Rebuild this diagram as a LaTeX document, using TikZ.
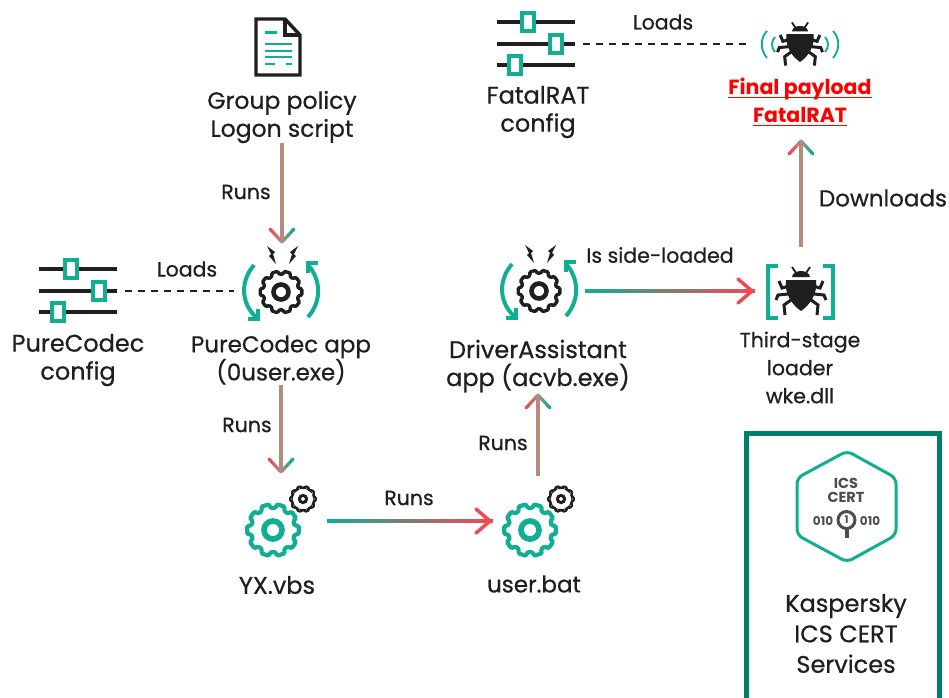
\documentclass[tikz,border=0pt]{standalone}
\usepackage{fontspec}
\setmainfont{Poppins}[FakeBold=0.6]
\newfontfamily\finalfont{Poppins}
\usetikzlibrary{calc}
\definecolor{ateal}{HTML}{10AE92}
\definecolor{ared}{HTML}{EE4B55}
\definecolor{abrown}{HTML}{B48C7E}
\definecolor{ink}{HTML}{1F1F1F}
\definecolor{boxteal}{HTML}{00806A}
\definecolor{hexgray}{HTML}{4D4D4D}
\newcommand{\ulr}[1]{\setbox0\hbox{#1}\rlap{\rule[-4pt]{\wd0}{1.6pt}}\box0 }
\tikzset{
  lab/.style={inner sep=0pt,outer sep=0pt,align=center,text=ink,font=\fontsize{23}{28}\selectfont},
  big/.style={lab,font=\fontsize{24}{28}\selectfont},
  small/.style={lab,font=\fontsize{20.5}{28}\selectfont},
  iconbox/.style={inner sep=0pt,outer sep=0pt,rectangle},
  dashline/.style={ink,line width=1.4pt,dash pattern=on 7pt off 6pt},
  pics/gearic/.style n args={4}{code={
    \draw[#4,line width=#3pt,rounded corners=1pt,fill=white] (-13:#1*0.85)
      \foreach \k in {0,...,9}{ -- ({36*\k-13}:#1*0.85) -- ({36*\k-8}:#1) -- ({36*\k+8}:#1) -- ({36*\k+13}:#1*0.85) } -- cycle;
    \draw[#4,line width=#3*1.35pt] (0,0) circle (#2);
  }},
  pics/sliders/.style n args={3}{code={
    \foreach \yy/\xx in {-22/#1,0/#2,21/#3}{
      \draw[ink,line width=4pt] (-39,\yy) -- (39,\yy);
      \draw[ateal,line width=3.6pt,fill=white] (\xx-6,\yy-9) rectangle (\xx+6,\yy+9);
    }
  }},
  pics/bolt/.style={code={
    \fill[ink] (-5,-9) -- (3,-3) -- (1,-1) -- (4,9) -- (-3,1) -- (-1,-1) -- cycle;
  }},
  pics/bug/.style={code={
    \fill[ink] (-9,-14) .. controls (-8,-22) and (8,-22) .. (9,-14) -- cycle;
    \fill[ink] (-15,-11) -- (15,-11) .. controls (17,2) and (9,14) .. (0,20) .. controls (-9,14) and (-17,2) .. (-15,-11) -- cycle;
    \draw[ink,line width=1.8pt] (-5,-18) -- (-9,-24) (5,-18) -- (9,-24);
    \foreach \s in {-1,1}{
      \draw[ink,line width=3pt,line join=miter] (\s*12,-5) -- (\s*19,-3) -- (\s*22,-10);
      \draw[ink,line width=3pt] (\s*13,3) -- (\s*23,4) -- (\s*25,9);
      \draw[ink,line width=3pt] (\s*10,9) -- (\s*17,14) -- (\s*16,24);
    }
  }},
  pics/spinner/.style={code={
    \draw[ateal,line width=4pt] (-27,-27) .. controls (-43,-8) and (-38,14) .. (-24,26);
    \draw[ateal,line width=3.6pt,line join=miter] (-33,27) -- (-23,27) -- (-23,17);
    \draw[ateal,line width=4pt] (27,25) .. controls (42,8) and (39,-14) .. (27,-27);
    \draw[ateal,line width=3.6pt,line join=miter] (37,-29) -- (27,-29) -- (27,-19);
    \pic at (0,0) {gearic={21}{7.5}{3.4}{ink}};
    \pic[xscale=1] at (-9,-37) {bolt};
    \pic[xscale=-1] at (12,-37) {bolt};
  }}
}
\newcommand{\harrow}[2]{%
  \foreach \i in {0,...,39}{%
    \pgfmathtruncatemacro\pct{100-\i*100/39}%
    \draw[line width=3.5pt,color={ateal!\pct!ared}] ($(#1)!{\i/40}!(#2)$) -- ($(#1)!{(\i+1.4)/40}!(#2)$);
  }%
  \draw[ared,line width=3.5pt,line cap=round,line join=round] ($(#2)+(-15,-12)$) -- ($(#2)+(-1,0)$) -- ($(#2)+(-15,12)$);
}
\newcommand{\varrow}[3]{%
  \draw[abrown,line width=3.5pt] (#1) -- ($(#2)+(0,-#3*3)$);
  \foreach \i in {0,...,9}{%
    \pgfmathtruncatemacro\pct{100-\i*100/9}%
    \draw[line width=3.2pt,line cap=round,color={abrown!\pct!ared}] ($(#2)+({-12*\i/10},{-13*#3*\i/10})$) -- ($(#2)+({-12*(\i+1)/10},{-13*#3*(\i+1)/10})$);
    \draw[line width=3.2pt,line cap=round,color={abrown!\pct!ateal}] ($(#2)+({12*\i/10},{-13*#3*\i/10})$) -- ($(#2)+({12*(\i+1)/10},{-13*#3*(\i+1)/10})$);
  }%
}
\begin{document}
\begin{tikzpicture}[x=1pt,y=-1pt]
\useasboundingbox[fill=white] (0,0) rectangle (949,697);

% anchor boxes
\node[iconbox,minimum width=46pt,minimum height=60pt] (doc) at (278,47) {};
\node[lab,font=\fontsize{23.5}{28}\selectfont,minimum width=160pt,minimum height=52pt] (gp) at (282,117) {Group policy\\Logon script};
\node[iconbox,minimum width=94pt,minimum height=100pt] (pcIcon) at (281,292) {};
\node[iconbox,minimum width=94pt,minimum height=50pt] (pcSl) at (78,291) {};
\node[big,minimum width=140pt,minimum height=54pt] (pcCfg) at (78,360) {PureCodec\\config};
\node[lab,minimum width=190pt,minimum height=50pt] (pcApp) at (281,360) {PureCodec app\\(0user.exe)};
\node[iconbox,minimum width=108pt,minimum height=116pt] (yxIcon) at (273,530) {};
\node[big] (yxLab) at (277,585) {YX.vbs};
\node[iconbox,minimum width=78pt,minimum height=108pt] (ubIcon) at (530,530) {};
\node[lab] (ubLab) at (534,584) {user.bat};
\node[iconbox,minimum width=92pt,minimum height=80pt] (drIcon) at (539,291) {};
\node[big,minimum width=190pt,minimum height=58pt] (drLab) at (538,366) {DriverAssistant\\app (acvb.exe)};
\node[iconbox,minimum width=96pt,minimum height=88pt] (tlIcon) at (801,291) {};
\node[small,minimum width=130pt] (tlLab) at (800,367.5) {Third-stage\\loader\\wke.dll};
\node[iconbox,minimum width=94pt,minimum height=50pt] (finIcon) at (799,44) {};
\node[lab,minimum width=170pt,minimum height=78pt,text=red,font=\finalfont\fontsize{20.5}{28}\selectfont\bfseries] (finLab) at (800,102) {\ulr{Final payload}\\\ulr{FatalRAT}};
\node[iconbox,minimum width=95pt,minimum height=50pt] (frSl) at (535.5,44) {};
\node[big,minimum width=110pt] (frCfg) at (538,112) {FatalRAT\\config};

% icons
\draw[ink,line width=3.4pt,line join=miter] (256,19) -- (285,19) -- (300,35) -- (300,75) -- (256,75) -- cycle;
\draw[ink,line width=3.4pt] (285,19) -- (285,35) -- (300,35);
\draw[ateal,line width=3pt] (265,32) -- (277,32);
\draw[ateal,line width=1.8pt] (265,44) -- (292,44) (265,51) -- (292,51) (265,57) -- (292,57) (265,64) -- (275,64) (286,64) -- (292,64);

\pic at (pcSl) {sliders={-7}{21}{-20}};
\pic at (frSl) {sliders={-7.5}{20.5}{-20.5}};
\pic at (pcIcon) {spinner};
\pic at (drIcon) {spinner};
\pic at (yxIcon) {gearic={26}{9}{4.2}{ateal}};
\pic at (303,499) {gearic={13}{3.6}{2.2}{ink}};
\pic at (ubIcon) {gearic={26}{9}{4.2}{ateal}};
\pic at (561,499) {gearic={13}{3.6}{2.2}{ink}};
\pic at (tlIcon) {bug};
\draw[ateal,line width=3.6pt,line join=miter] (778,266) -- (768,266) -- (768,318) -- (778,318);
\draw[ateal,line width=3.6pt,line join=miter] (823,266) -- (833,266) -- (833,318) -- (823,318);
\pic[scale=0.9] at (800,44) {bug};
\draw[ateal,line width=1.9pt] (767,31) .. controls (760,38) and (760,50) .. (767,58);
\draw[ateal,line width=1.9pt] (775,37) .. controls (771,41) and (771,48) .. (775,52);
\draw[ateal,line width=1.9pt] (833,31) .. controls (840,38) and (840,50) .. (833,58);
\draw[ateal,line width=1.9pt] (825,37) .. controls (829,41) and (829,48) .. (825,52);

% connectors
\draw[dashline] (pcSl.east) -- (pcIcon.west |- pcSl.east);
\draw[dashline] (frSl.east) -- (finIcon.west);
\coordinate (a1s) at (gp.south);
\coordinate (a1e) at (gp.south |- pcIcon.north);
\varrow{a1s}{a1e}{1}
\coordinate (a2s) at (pcApp.south);
\coordinate (a2e) at (pcApp.south |- yxIcon.north);
\varrow{a2s}{a2e}{1}
\coordinate (a3s) at (drLab.south |- ubIcon.north);
\coordinate (a3e) at (drLab.south);
\varrow{a3s}{a3e}{-1}
\coordinate (a4s) at (tlIcon.north);
\coordinate (a4e) at (tlIcon.north |- finLab.south);
\varrow{a4s}{a4e}{-1}
\coordinate (a5s) at (yxIcon.east |- 0,521);
\coordinate (a5e) at (ubIcon.west |- 0,521);
\harrow{a5s}{a5e}
\coordinate (a6s) at (drIcon.east);
\coordinate (a6e) at (tlIcon.west);
\harrow{a6s}{a6e}

% connector labels
\node[small] (r1) at (246,192) {Runs};
\node[small] (r2) at (247,425) {Runs};
\node[small] (r3) at (409,498) {Runs};
\node[small] (r4) at (503,443) {Runs};
\node[small] (l1) at (187,269) {Loads};
\node[small] (l2) at (663,22) {Loads};
\node[small] (sl) at (660,255) {Is side-loaded};
\node[lab] (dl) at (883,198) {Downloads};

% services box
\draw[boxteal,line width=5pt,line join=miter] (746.5,700) -- (746.5,433.5) -- (939.5,433.5) -- (939.5,700);
\draw[ateal,line width=3pt,rounded corners=6pt] (847,451) -- (896,478) -- (896,535) -- (847,562) -- (797,535) -- (797,478) -- cycle;
\node[lab,text=hexgray,font=\finalfont\fontsize{14.5}{14}\selectfont\bfseries] (hx) at (846,490.5) {ICS\\CERT};
\node[lab,text=hexgray,font=\finalfont\fontsize{12}{11}\selectfont\bfseries] (h0l) at (823,521) {010};
\node[lab,text=hexgray,font=\finalfont\fontsize{12}{11}\selectfont\bfseries] (h0r) at (870,521) {010};
\draw[hexgray,line width=3pt] (846.5,520) circle (8.5);
\draw[hexgray,line width=4pt] (846.5,528) -- (846.5,538);
\node[lab,text=hexgray,font=\finalfont\fontsize{10.5}{11}\selectfont\bfseries] (h1) at (846.5,520) {1};
\node[lab,font=\fontsize{24}{30.5}\selectfont] (svc) at (846,633.5) {Kaspersky\\ICS CERT\\Services};
\end{tikzpicture}
\end{document}
